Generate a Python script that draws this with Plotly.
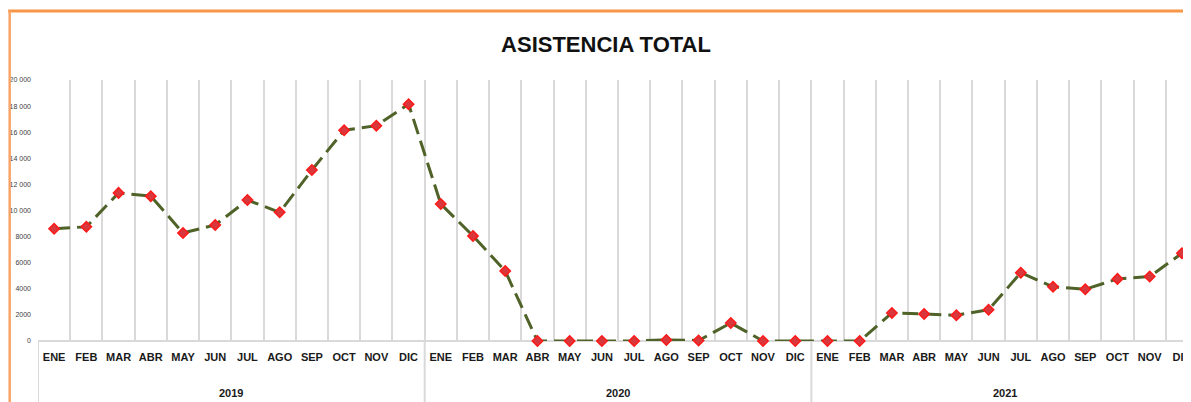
import plotly.graph_objects as go

months = ["ENE", "FEB", "MAR", "ABR", "MAY", "JUN", "JUL", "AGO", "SEP", "OCT", "NOV", "DIC"] * 3
years = ["2019", "2020", "2021"]
values = [
    8600, 8750, 11350, 11100, 8280, 8890, 10800, 9860, 13100, 16150, 16500, 18150,
    10500, 8050, 5360, 0, 0, 0, 0, 80, 40, 1380, 0, 0,
    0, 0, 2150, 2070, 1980, 2400, 5230, 4150, 3960, 4760, 4940, 6720,
]
ytick_vals = [0, 2000, 4000, 6000, 8000, 10000, 12000, 14000, 16000, 18000, 20000]
ytick_text = ["0", "2000", "4000", "6000", "8000", "10 000", "12 000", "14 000", "16 000", "18 000", "20 000"]
title_text = "ASISTENCIA TOTAL"

# the page body adds an 8px offset; work in figure pixels = window pixels - 8
OFF = 8
W, H = 1191 - OFF, 402 - OFF
ML, MR, MT = 38 - OFF, 0, 80 - OFF
ZERO_Y = 341 - OFF
MB = H - ZERO_Y
PW, PH = W - ML - MR, H - MT - MB
CAT_W = 32.42

x = list(range(len(values)))

fig = go.Figure()
fig.add_trace(go.Scatter(
    x=x, y=values, mode="lines+markers",
    line=dict(color="#4F6228", width=3, dash="16px,7px"),
    marker=dict(symbol="diamond", size=8, color="#D8383C",
                line=dict(color="#FF1A1A", width=1.5)),
    showlegend=False, cliponaxis=False,
))

# year labels and dividers
n_per_year = 12
for i, yr in enumerate(years):
    center = i * n_per_year + (n_per_year - 1) / 2
    fig.add_annotation(x=center, xref="x", y=-((393 - OFF) - ZERO_Y) / PH, yref="paper",
                       text=yr, showarrow=False, yanchor="middle",
                       font=dict(family="Liberation Sans, Arial", size=11, color="#1a1a1a", weight="bold"))
    fig.add_shape(type="line", xref="x", yref="paper",
                  x0=i * n_per_year - 0.5, x1=i * n_per_year - 0.5,
                  y0=0, y1=-MB / PH, line=dict(color="#d9d9d9", width=2))

# orange frame
top_y = (ZERO_Y - (11 - OFF)) / PH
left_x = ((8 - OFF) - ML) / PW
fig.add_shape(type="line", xref="paper", yref="paper", x0=left_x, x1=1.05, y0=top_y, y1=top_y,
              line=dict(color="#F79646", width=3))
fig.add_shape(type="line", xref="paper", yref="paper", x0=left_x + 1.5 / PW, x1=left_x + 1.5 / PW,
              y0=top_y, y1=-MB / PH - 0.05,
              line=dict(color="#F8A468", width=2.5))

fig.update_layout(
    width=W, height=H,
    margin=dict(l=ML, r=MR, t=MT, b=MB),
    paper_bgcolor="white", plot_bgcolor="white",
    title=dict(text=title_text, x=(606 - OFF) / W, xanchor="center",
               y=1 - (44 - OFF) / H, yanchor="middle",
               font=dict(family="Liberation Sans, Arial", size=22,
                         color="#111111", weight="bold")),
    xaxis=dict(
        range=[-0.5, -0.5 + PW / CAT_W],
        tickmode="array", tickvals=x, ticktext=months,
        tickfont=dict(family="Liberation Sans, Arial", size=11, color="#1a1a1a", weight="bold"),
        ticks="", showgrid=False, zeroline=False, ticklabeloverflow="allow",
        showline=False, ticklabelstandoff=8,
        minor=dict(tickmode="array", tickvals=[i - 0.5 for i in range(len(values) + 1)],
                   showgrid=True, gridcolor="#d9d9d9", gridwidth=2, ticks=""),
    ),
    yaxis=dict(
        range=[0, 20000], tickmode="array", tickvals=ytick_vals, ticktext=ytick_text,
        tickfont=dict(family="Liberation Sans Narrow, Liberation Sans, Arial", size=7, color="#404040"),
        showgrid=False, zeroline=True, zerolinecolor="#d9d9d9", zerolinewidth=2,
        showline=False, ticks="", ticklabelstandoff=6,
    ),
)

fig.write_html("out.html")
